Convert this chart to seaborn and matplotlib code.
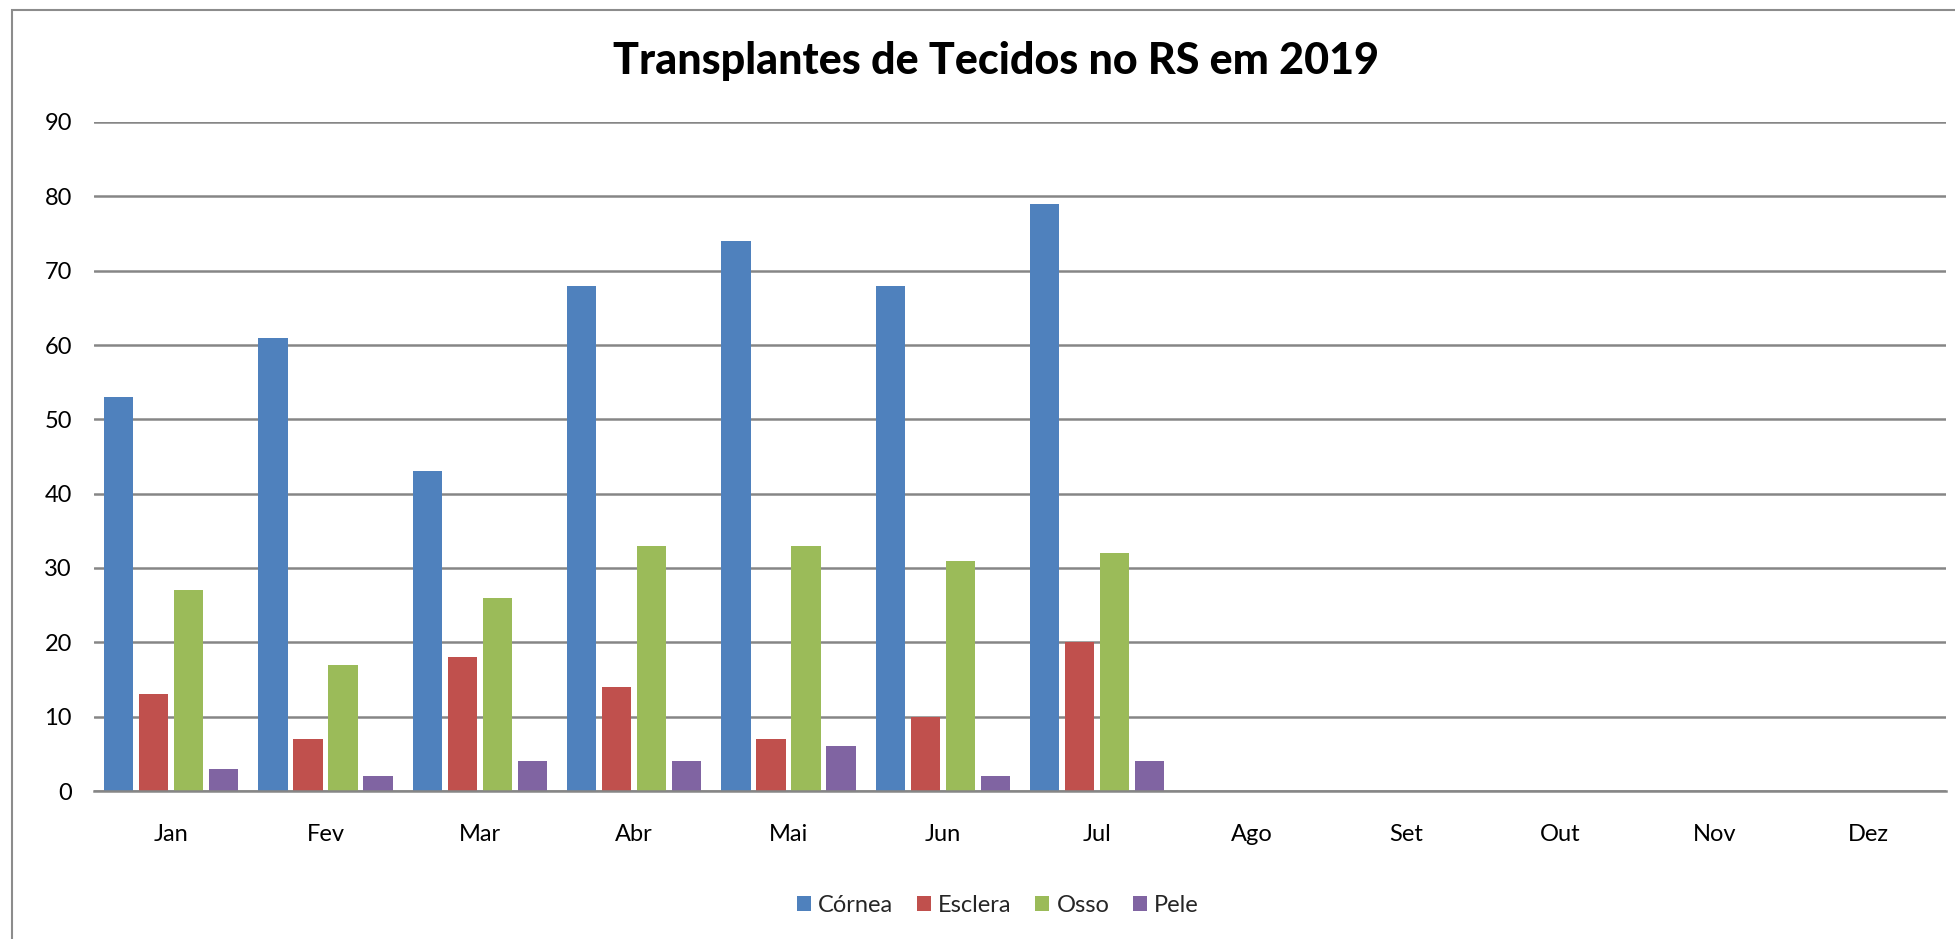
import matplotlib
matplotlib.use("Agg")
import matplotlib.pyplot as plt
import seaborn as sns
import pandas as pd
from matplotlib.patches import Rectangle, Patch

meses = ["Jan", "Fev", "Mar", "Abr", "Mai", "Jun", "Jul", "Ago", "Set", "Out", "Nov", "Dez"]
tecidos = ["Córnea", "Esclera", "Osso", "Pele"]
cores = ["#4F81BD", "#C0504D", "#9BBB59", "#8064A2"]

# so ate julho tem dados
meses_com_dados = ["Jan", "Fev", "Mar", "Abr", "Mai", "Jun", "Jul"]
cornea = [53, 61, 43, 68, 74, 68, 79]
esclera = [13, 7, 18, 14, 7, 10, 20]
osso = [27, 17, 26, 33, 33, 31, 32]
pele = [3, 2, 4, 4, 6, 2, 4]

y_ticks = list(range(0, 91, 10))

rows = []
for nome, vals in zip(tecidos, [cornea, esclera, osso, pele]):
    for m, v in zip(meses_com_dados, vals):
        rows.append({"mes": m, "tecido": nome, "valor": v})
df = pd.DataFrame(rows)

sns.set_style("white")
plt.rcParams['font.family'] = ['Lato', 'DejaVu Sans']

fig = plt.figure(figsize=(19.56, 9.39), dpi=100)
ax = fig.add_axes([94 / 1956, 1 - 791 / 939, (1946 - 94) / 1956, (791 - 122) / 939])

sns.barplot(data=df, x="mes", y="valor", hue="tecido", order=meses, hue_order=tecidos,
            palette=cores, width=0.907, gap=0.17, errorbar=None, saturation=1,
            linewidth=0, legend=False, ax=ax)

ax.set_xlim(-0.5, len(meses) - 0.5)
ax.set_ylim(0, 90)
ax.set_yticks(y_ticks)
ax.set_xlabel("")
ax.set_ylabel("")
ax.yaxis.grid(True, color="#868686", linewidth=1.8)
ax.set_axisbelow(True)
for s in ["top", "right", "left"]:
    ax.spines[s].set_visible(False)
ax.spines["bottom"].set_color("#868686")
ax.spines["bottom"].set_linewidth(1.8)
ax.tick_params(axis="both", length=0, labelsize=17, labelcolor="black")
ax.tick_params(axis="x", pad=24)
ax.tick_params(axis="y", pad=16)

fig.text(996 / 1956, 1 - 61 / 939, "Transplantes de Tecidos no RS em 2019",
         ha="center", va="center", fontsize=31, fontweight="black", color="black")

handles = [Patch(facecolor=c, edgecolor="none") for c in cores]
fig.legend(handles, tecidos, loc="center", bbox_to_anchor=(998 / 1956, 1 - 905 / 939),
           ncol=4, frameon=False, fontsize=17, handlelength=0.6, handleheight=0.6,
           handletextpad=0.3, columnspacing=1.0)

# moldura do grafico
fig.patches.append(Rectangle((12.5 / 1956, -0.1), 1.2, 1.1 - 10 / 939, transform=fig.transFigure,
                             fill=False, edgecolor="#8C8C8C", linewidth=1.5))

fig.savefig("out.png", dpi=100)
